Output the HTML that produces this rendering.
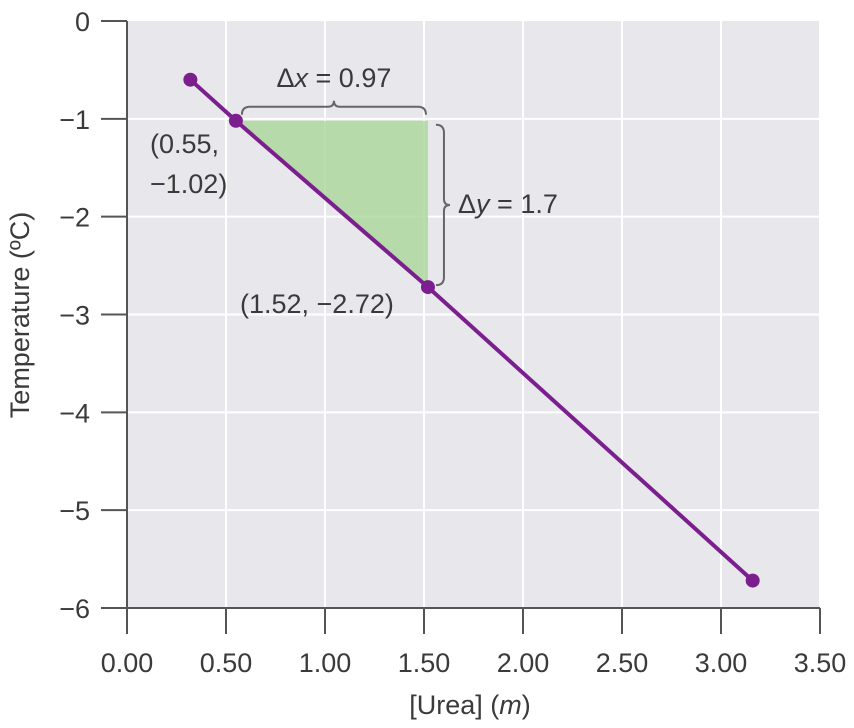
<!DOCTYPE html>
<html><head><meta charset="utf-8"><style>body{margin:0;background:#fff}svg text{font-family:"Liberation Sans",sans-serif;fill:#3a3a3a}</style></head>
<body>
<svg id="chart" width="854" height="723" xmlns="http://www.w3.org/2000/svg">
<g id="grid"></g><g id="marks"></g><g id="axes"></g><g id="ann"></g>
</svg>
<script>
const xTicks=[0,0.5,1,1.5,2,2.5,3,3.5];
const xTickLabels=["0.00","0.50","1.00","1.50","2.00","2.50","3.00","3.50"];
const yTicks=[0,-1,-2,-3,-4,-5,-6];
const yTickLabels=["0","\u22121","\u22122","\u22123","\u22124","\u22125","\u22126"];
const ptX=[0.32,0.55,1.52,3.16];
const ptY=[-0.6,-1.02,-2.72,-5.72];
const X0=127,X1=820,Y0=21,Y1=608;
const sx=v=>X0+(v-0)/(3.5)*(X1-X0);
const sy=v=>Y0+(0-v)/6*(Y1-Y0);
const NS="http://www.w3.org/2000/svg";
function mk(p,t,a){const e=document.createElementNS(NS,t);for(const k in a)e.setAttribute(k,a[k]);document.getElementById(p).appendChild(e);return e;}
let bg=mk('grid','rect',{x:X0,y:Y0,width:X1-X0,height:Y1-Y0,fill:'#e8e8ec'});


xTicks.forEach((v,i)=>{if(i>0){let g=mk('grid','line',{x1:sx(v),x2:sx(v),y1:Y0,y2:Y1,stroke:'#fff','stroke-width':2});}
let t=mk('axes','line',{x1:sx(v),x2:sx(v),y1:Y1,y2:Y1+26,stroke:'#555','stroke-width':2});
let l=mk('axes','text',{x:sx(v),y:672,'text-anchor':'middle','font-size':27});l.textContent=xTickLabels[i];});
yTicks.forEach((v,i)=>{if(i>0&&i<6){let g=mk('grid','line',{x1:X0,x2:X1,y1:sy(v),y2:sy(v),stroke:'#fff','stroke-width':2});}
let t=mk('axes','line',{x1:101,x2:X0,y1:sy(v),y2:sy(v),stroke:'#555','stroke-width':2});
let l=mk('axes','text',{x:90,y:sy(v)+10,'text-anchor':'end','font-size':27});l.textContent=yTickLabels[i];});
let ax=mk('axes','line',{x1:X0,x2:X0,y1:Y0,y2:Y1+26,stroke:'#555','stroke-width':2});
let bx=mk('axes','line',{x1:101,x2:X1,y1:Y1,y2:Y1,stroke:'#555','stroke-width':2});
let tri=mk('marks','polygon',{points:`${sx(ptX[1])},${sy(ptY[1])} ${sx(ptX[2])},${sy(ptY[1])} ${sx(ptX[2])},${sy(ptY[2])}`,fill:'#a9d69a','fill-opacity':0.8});

let ln=mk('marks','polyline',{points:ptX.map((x,i)=>sx(x)+','+sy(ptY[i])).join(' '),fill:'none',stroke:'#7b1f8e','stroke-width':4});

ptX.forEach((x,i)=>{let c=mk('marks','circle',{cx:sx(x),cy:sy(ptY[i]),r:7,fill:'#7b1f8e'});});
function tx(x,y,s,name,extra){let t=mk('ann','text',Object.assign({x:x,y:y,'font-size':27},extra||{}));t.innerHTML=s;return t;}
let xa=sx(ptX[1])+6,xb=sx(ptX[2])-2,bY=sy(ptY[1])-14,mx=(xa+xb)/2;
let br=mk('ann','path',{d:`M${xa},${bY+8} Q${xa},${bY} ${xa+8},${bY} L${mx-6},${bY} Q${mx},${bY} ${mx},${bY-6} Q${mx},${bY} ${mx+6},${bY} L${xb-8},${bY} Q${xb},${bY} ${xb},${bY+8}`,fill:'none',stroke:'#666','stroke-width':2});

let vx=sx(ptX[2])+16,ya=sy(ptY[1])+4,yb=sy(ptY[2])-2,my=(ya+yb)/2;
let br2=mk('ann','path',{d:`M${vx-8},${ya} Q${vx},${ya} ${vx},${ya+8} L${vx},${my-6} Q${vx},${my} ${vx+6},${my} Q${vx},${my} ${vx},${my+6} L${vx},${yb-8} Q${vx},${yb} ${vx-8},${yb}`,fill:'none',stroke:'#666','stroke-width':2});

tx(mx,87,'Δ<tspan font-style="italic">x</tspan> = 0.97','delta-x-label',{'text-anchor':'middle'});
tx(458,213,'Δ<tspan font-style="italic">y</tspan> = 1.7','delta-y-label');
tx(150,153,'(0.55,','point-label-1a');
tx(150,193,'\u22121.02)','point-label-1b');
tx(240,313,'(1.52, \u22122.72)','point-label-2');
tx(470,714,'[Urea] (<tspan font-style="italic">m</tspan>)','x-axis-title',{'text-anchor':'middle'});
tx(0,0,'Temperature (ºC)','y-axis-title',{'text-anchor':'middle',transform:'translate(29,315) rotate(-90)'});
</script>
</body></html>
